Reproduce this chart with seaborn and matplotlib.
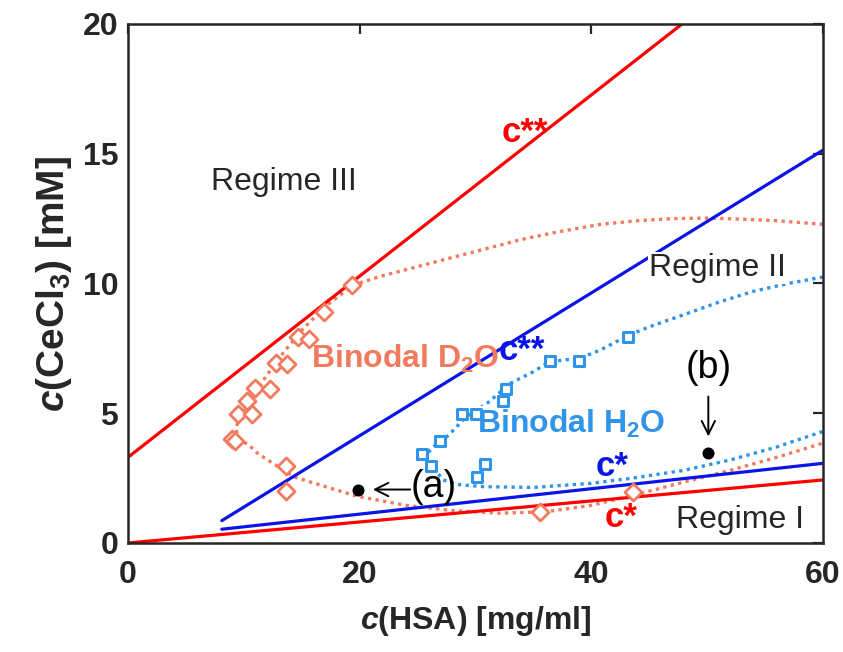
import matplotlib
matplotlib.use("Agg")
import matplotlib.pyplot as plt
import numpy as np
import pandas as pd
import seaborn as sns

# ---- data -----------------------------------------------------------------
# measured binodal points, D2O (diamonds)
d2o_x = [19.3, 16.9, 14.7, 15.6, 12.8, 13.7, 11.0, 12.3, 10.25, 9.5, 10.7,
         8.95, 9.25, 13.6, 13.6, 35.6, 43.6]
d2o_y = [9.95, 8.9, 7.95, 7.87, 6.93, 6.9, 5.98, 5.92, 5.47, 4.96, 4.96,
         4.0, 3.94, 2.98, 2.0, 1.2, 1.96]

# measured binodal points, H2O (squares)
h2o_x = [43.2, 38.9, 36.4, 32.6, 32.4, 30.05, 28.8, 26.9, 25.4, 26.2, 30.8, 30.1]
h2o_y = [7.95, 7.0, 7.0, 5.95, 5.47, 4.96, 4.96, 3.94, 3.43, 2.98, 3.05, 2.54]

# binodal guide curves (traced path)
d2o_curve_x = [60, 56, 53, 50, 47, 44, 40.8, 37, 34, 31, 27.8, 25, 22, 20.7,
               19.5, 18.3, 17, 15, 13, 11.5, 10.5, 9.6, 9.3, 9.6, 10.5, 11.2,
               12.3, 14.3, 17.2, 19.8, 24, 28, 32, 36, 40, 44, 48, 52, 56, 60]
d2o_curve_y = [12.28, 12.42, 12.48, 12.52, 12.5, 12.42, 12.28, 11.98, 11.7,
               11.35, 10.98, 10.65, 10.3, 10.12, 9.95, 9.55, 9.1, 8.2, 7.1,
               6.15, 5.45, 4.8, 4.4, 4.0, 3.75, 3.45, 3.13, 2.55, 2.15, 1.8,
               1.45, 1.25, 1.15, 1.2, 1.45, 1.88, 2.35, 2.8, 3.3, 3.85]

h2o_curve_x = [60, 57, 54, 51, 48, 45, 43.2, 40.8, 39, 36.4, 35, 33, 31,
               29.2, 27.7, 26.5, 25.7, 25.9, 26.4, 27.2, 28.7, 30.7, 35, 40,
               43.4, 48, 52, 56, 60]
h2o_curve_y = [10.25, 10.0, 9.7, 9.28, 8.8, 8.33, 8.0, 7.44, 7.12, 6.99,
               6.6, 6.15, 5.38, 4.87, 4.16, 3.75, 3.4, 3.1, 2.88, 2.43, 2.24,
               2.17, 2.14, 2.3, 2.49, 2.8, 3.2, 3.7, 4.3]

# threshold lines (end points)
red_cstarstar = ([0, 60], [3.3, 24.25])
blue_cstarstar = ([8.1, 60], [0.86, 15.14])
blue_cstar = ([8.1, 60], [0.53, 3.07])
red_cstar = ([0, 60], [0.0, 2.43])

# sample points (a) and (b)
sample_x = [19.9, 50.1]
sample_y = [2.06, 3.48]

# ---- style ----------------------------------------------------------------
sns.set_theme(style="white")
plt.rcParams["font.family"] = ["Liberation Sans", "DejaVu Sans"]
plt.rcParams["mathtext.fontset"] = "custom"
plt.rcParams["mathtext.rm"] = "Liberation Sans:bold"
plt.rcParams["mathtext.bf"] = "Liberation Sans:bold"
plt.rcParams["mathtext.it"] = "Liberation Sans:italic:bold"

RED = "#ff0000"
BLUE = "#0a14e6"
SALMON = "#f27a5e"
LBLUE = "#3094e8"

fig = plt.figure(figsize=(8.43, 6.52), dpi=100)
ax = fig.add_axes([0.1518, 0.1672, 0.9763 - 0.1518, 0.9632 - 0.1672])

# guide curves
dots = (0, (1.0, 1.3))
sns.lineplot(data=pd.DataFrame({"x": d2o_curve_x, "y": d2o_curve_y}), x="x", y="y",
             sort=False, estimator=None, color=SALMON, lw=2.4, ls=dots, ax=ax)
sns.lineplot(data=pd.DataFrame({"x": h2o_curve_x, "y": h2o_curve_y}), x="x", y="y",
             sort=False, estimator=None, color=LBLUE, lw=2.4, ls=dots, ax=ax)

# threshold lines
for (lx, ly), col in [(red_cstarstar, RED), (blue_cstarstar, BLUE),
                      (blue_cstar, BLUE), (red_cstar, RED)]:
    sns.lineplot(x=lx, y=ly, color=col, lw=2.3, ax=ax, sort=False, estimator=None)

# measured points
sns.scatterplot(x=d2o_x, y=d2o_y, marker="D", s=75, facecolor="white",
                edgecolor=SALMON, linewidth=2.0, ax=ax, zorder=4)
sns.scatterplot(x=h2o_x, y=h2o_y, marker="s", s=60, facecolor="white",
                edgecolor=LBLUE, linewidth=2.2, ax=ax, zorder=4)
sns.scatterplot(x=sample_x, y=sample_y, color="black", s=75, edgecolor="black",
                linewidth=0, ax=ax, zorder=5)

# annotations
ax.annotate("", xy=(20.9, sample_y[0]), xytext=(24.6, sample_y[0]),
            arrowprops=dict(arrowstyle="->", color="black", lw=1.4,
                            mutation_scale=24))
ax.text(26.4, 2.16, "(a)", fontsize=27, ha="center", va="center", color="black")
ax.annotate("", xy=(sample_x[1], 4.0), xytext=(sample_x[1], 5.75),
            arrowprops=dict(arrowstyle="->", color="black", lw=1.4,
                            mutation_scale=24))
ax.text(50.1, 6.76, "(b)", fontsize=27, ha="center", va="center", color="black")

white_box = dict(facecolor="white", edgecolor="none", pad=1.0)
ax.text(34.3, 15.8, "c**", color=RED, fontsize=25, fontweight="bold",
        ha="center", va="center")
ax.text(34.0, 7.4, "c**", color=BLUE, fontsize=25, fontweight="bold",
        ha="center", va="center")
ax.text(41.8, 2.95, "c*", color=BLUE, fontsize=25, fontweight="bold",
        ha="center", va="center")
ax.text(42.6, 1.0, "c*", color=RED, fontsize=25, fontweight="bold",
        ha="center", va="center")
ax.text(13.5, 13.9, "Regime III", fontsize=23, ha="center", va="center")
ax.text(50.9, 10.6, "Regime II", fontsize=23, ha="center", va="center",
        bbox=white_box, zorder=3)
ax.text(52.8, 0.9, "Regime I", fontsize=23, ha="center", va="center")
ax.text(23.9, 7.1, "Binodal D$_2$O", color=SALMON, fontsize=23,
        fontweight="bold", ha="center", va="center")
ax.text(38.3, 4.6, "Binodal H$_2$O", color=LBLUE, fontsize=23,
        fontweight="bold", ha="center", va="center", bbox=white_box, zorder=3)

# axes
ax.set_xlim(0, 60)
ax.set_ylim(0, 20)
ax.set_xticks([0, 20, 40, 60])
ax.set_yticks([0, 5, 10, 15, 20])
ax.set_xlabel("$c$(HSA) [mg/ml]", fontsize=23, fontweight="bold", labelpad=10)
ax.set_ylabel("$c$(CeCl$_3$) [mM]", fontsize=28, fontweight="bold", labelpad=6)
ax.tick_params(direction="in", length=7, width=1.6, top=True, right=True,
               labelsize=23, colors="#262626")
ax.tick_params(axis="x", pad=12)
ax.tick_params(axis="y", pad=7)
for lab in ax.get_xticklabels() + ax.get_yticklabels():
    lab.set_fontweight("bold")
for sp in ax.spines.values():
    sp.set_linewidth(1.8)
    sp.set_color("#262626")
ax.grid(False)
if ax.get_legend():
    ax.get_legend().remove()

fig.savefig("out.png", dpi=100)
